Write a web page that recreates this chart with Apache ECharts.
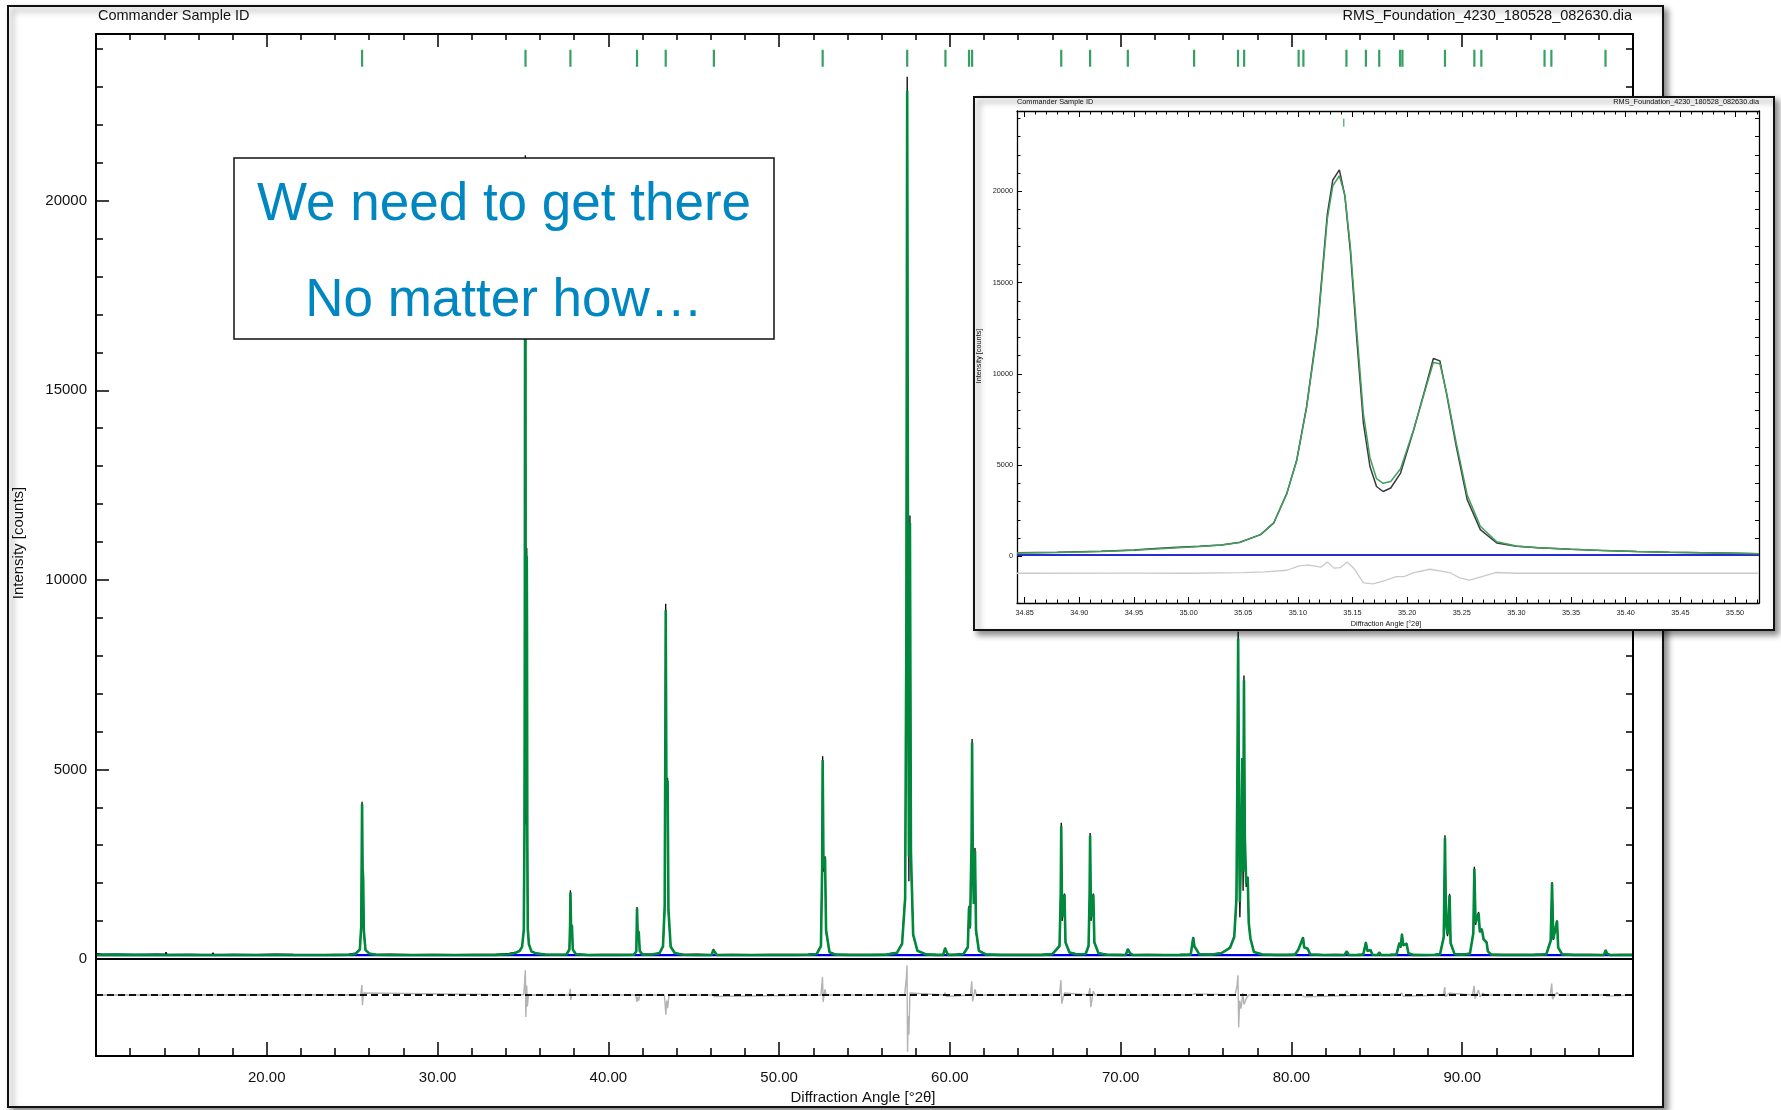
<!DOCTYPE html>
<html>
<head>
<meta charset="utf-8">
<title>Rietveld fit</title>
<script src="https://cdn.jsdelivr.net/npm/echarts@6/dist/echarts.min.js"></script>
<style>
html, body { margin: 0; padding: 0; background: #fff; }
#chart { width: 1781px; height: 1110px; }
</style>
</head>
<body>
<div id="chart"></div>
<script>
// ---- main pattern: [2theta, observed, calculated] ----
var mainProfile = [
    [10.00, 145, 108], [10.40, 120, 108], [11.20, 128, 107], [12.30, 112, 107], [13.60, 125, 106],
    [14.05, 118, 106], [14.10, 175, 106], [14.15, 115, 106], [15.50, 122, 105],
    [16.80, 108, 105], [16.85, 165, 105], [16.90, 110, 105], [18.00, 120, 105], [19.40, 112, 104],
    [20.50, 125, 104], [21.55, 118, 104], [21.60, 160, 104], [21.65, 116, 104], [22.80, 110, 104],
    [24.00, 122, 104], [24.80, 130, 110],
    [25.20, 150, 135], [25.45, 260, 250], [25.53, 900, 850], [25.58, 4150, 4080], [25.61, 2300, 2400],
    [25.645, 2150, 2120], [25.68, 700, 760], [25.78, 230, 240], [26.00, 150, 140], [26.40, 118, 112],
    [27.20, 125, 104], [27.25, 170, 104], [27.30, 118, 104], [28.50, 112, 104], [29.80, 120, 104],
    [31.00, 115, 104], [31.05, 160, 104], [31.10, 112, 104], [32.20, 122, 105], [33.40, 118, 108],
    [34.20, 145, 125], [34.60, 180, 165], [34.80, 220, 210], [34.95, 330, 320], [35.05, 770, 760],
    [35.09, 3460, 3450], [35.108, 8200, 8150], [35.127, 18800, 18500], [35.138, 21200, 20850],
    [35.148, 16800, 17000], [35.160, 7300, 7800], [35.178, 3550, 4000], [35.194, 4560, 4800],
    [35.210, 8000, 8000], [35.224, 10840, 10620], [35.236, 8930, 9000], [35.255, 3100, 3350],
    [35.282, 730, 800], [35.35, 380, 385], [35.50, 200, 195], [35.80, 150, 140], [36.30, 125, 118],
    [36.90, 120, 110],
    [37.55, 130, 118], [37.72, 260, 250], [37.76, 900, 880], [37.78, 1810, 1750], [37.82, 700, 760],
    [37.87, 905, 880], [37.92, 240, 250], [38.10, 135, 125],
    [38.80, 112, 106], [39.60, 120, 105], [39.65, 165, 105], [39.70, 115, 105], [40.60, 118, 105],
    [41.50, 120, 110], [41.64, 210, 200], [41.68, 1370, 1330], [41.72, 600, 650], [41.78, 740, 720],
    [41.84, 200, 210], [42.00, 125, 115],
    [42.60, 125, 120], [43.00, 160, 150], [43.20, 350, 330], [43.30, 1250, 1400], [43.34, 6000, 6100],
    [43.36, 9370, 9200], [43.40, 4300, 4600], [43.47, 4780, 4700], [43.52, 1200, 1300], [43.65, 330, 320],
    [43.90, 160, 150], [44.40, 118, 112],
    [45.20, 125, 106], [45.25, 160, 106], [45.30, 115, 106],
    [46.05, 115, 107], [46.15, 260, 240], [46.22, 200, 190], [46.35, 115, 107],
    [47.20, 120, 105], [48.40, 112, 105], [49.50, 122, 105], [49.55, 165, 105], [49.60, 114, 105],
    [50.80, 118, 106], [51.70, 125, 110],
    [52.20, 145, 130], [52.45, 360, 340], [52.52, 2500, 2400], [52.55, 5350, 5250], [52.60, 2300, 2400],
    [52.69, 2710, 2650], [52.75, 700, 760], [52.95, 180, 175], [53.30, 125, 115],
    [54.20, 118, 106], [55.40, 122, 106], [55.45, 165, 106], [55.50, 115, 106], [56.30, 125, 115],
    [56.90, 170, 160], [57.20, 420, 400], [57.38, 1700, 1600], [57.45, 8000, 8500], [57.50, 23270, 22900],
    [57.55, 9000, 9600], [57.60, 2050, 2700], [57.66, 11700, 11500], [57.72, 2500, 2800],
    [57.85, 620, 640], [58.10, 220, 215], [58.60, 130, 122],
    [59.20, 118, 108], [59.60, 115, 108], [59.72, 300, 280], [59.80, 200, 190], [59.90, 115, 108],
    [60.40, 125, 112], [60.80, 145, 130], [61.05, 320, 310], [61.12, 1400, 1350], [61.18, 800, 850],
    [61.27, 3000, 3100], [61.30, 5800, 5700], [61.34, 2600, 2800], [61.40, 1500, 1450], [61.47, 2930, 2850],
    [61.53, 700, 760], [61.70, 220, 215], [62.10, 130, 120],
    [63.00, 118, 106], [64.20, 122, 106], [64.25, 170, 106], [64.30, 114, 106], [65.40, 120, 108],
    [66.00, 140, 128], [66.42, 360, 340], [66.49, 1800, 1700], [66.52, 3590, 3500], [66.57, 1000, 1100],
    [66.71, 1725, 1700], [66.77, 420, 440], [67.00, 180, 170], [67.40, 135, 125],
    [67.95, 145, 130], [68.12, 360, 340], [68.18, 1700, 1650], [68.21, 3320, 3250], [68.26, 1000, 1100],
    [68.40, 1725, 1700], [68.46, 420, 440], [68.70, 160, 150], [69.20, 120, 112],
    [69.90, 118, 106], [70.30, 115, 107], [70.42, 270, 260], [70.55, 160, 150], [70.70, 115, 107],
    [71.50, 122, 106], [72.60, 115, 106], [72.65, 160, 106], [72.70, 113, 106], [73.50, 120, 108],
    [74.10, 125, 115], [74.25, 580, 560], [74.32, 330, 330], [74.45, 250, 240], [74.60, 130, 120],
    [75.30, 125, 115], [75.90, 160, 150], [76.40, 300, 290], [76.65, 600, 580], [76.78, 1500, 1600],
    [76.84, 5000, 5200], [76.88, 8630, 8450], [76.93, 3500, 3700], [76.98, 1100, 1500], [77.05, 2800, 3000],
    [77.12, 5200, 5300], [77.17, 1800, 2300], [77.22, 7480, 7350], [77.27, 3000, 3200], [77.35, 1900, 2000],
    [77.44, 2170, 2160], [77.50, 900, 950], [77.60, 530, 540], [77.80, 190, 185], [78.30, 125, 118],
    [79.10, 118, 106], [79.80, 120, 108],
    [80.20, 125, 112], [80.40, 250, 240], [80.47, 200, 200], [80.68, 580, 560], [80.74, 300, 310],
    [80.95, 280, 270], [81.10, 130, 118],
    [81.90, 115, 106], [82.60, 122, 106], [82.65, 165, 106], [82.70, 113, 106],
    [83.10, 115, 106], [83.24, 210, 200], [83.35, 115, 106],
    [83.90, 118, 107], [84.20, 120, 110], [84.36, 450, 430], [84.45, 200, 210], [84.62, 250, 240],
    [84.75, 120, 110], [85.05, 115, 106], [85.14, 180, 170], [85.25, 115, 106],
    [85.80, 120, 108], [86.15, 130, 118], [86.32, 430, 420], [86.40, 300, 310], [86.47, 670, 650],
    [86.55, 350, 360], [86.74, 420, 400], [86.85, 160, 150], [87.10, 118, 108],
    [87.80, 115, 106], [88.40, 122, 110],
    [88.70, 135, 122], [88.92, 600, 580], [88.99, 3260, 3200], [89.05, 900, 1000], [89.14, 600, 650],
    [89.26, 1720, 1680], [89.32, 400, 420], [89.55, 140, 128],
    [90.00, 125, 112], [90.45, 150, 135], [90.65, 700, 680], [90.71, 2430, 2380], [90.78, 900, 950],
    [90.96, 1240, 1200], [91.03, 700, 720], [91.15, 800, 780], [91.25, 500, 520], [91.43, 450, 430],
    [91.50, 200, 200], [91.70, 125, 115],
    [92.40, 118, 106], [93.30, 122, 106], [93.35, 160, 106], [93.40, 114, 106], [94.20, 118, 107],
    [94.80, 130, 118], [94.85, 170, 150], [94.92, 125, 118], [95.00, 140, 125], [95.18, 500, 480],
    [95.26, 2030, 2000], [95.33, 500, 520], [95.55, 1020, 1000], [95.62, 300, 300], [95.85, 130, 120],
    [96.60, 118, 106], [97.50, 120, 106],
    [98.30, 115, 106], [98.40, 240, 230], [98.48, 150, 140], [98.55, 190, 180], [98.65, 115, 106],
    [99.30, 122, 106], [100.00, 118, 106]
];

// background (blue)
var mainBackground = [[10, 103], [25, 102], [40, 101], [55, 100], [70, 100], [85, 100], [100, 101]];

// difference curve, already shifted by the offset line
var mainDiffOffset = -950;
var mainDiff = [
    [10.0, -950], [24.9, -945],
    [25.50, -950], [25.57, -690], [25.60, -1220], [25.66, -900], [25.72, -950],
    [34.9, -950], [35.05, -930], [35.10, -600], [35.14, -300], [35.17, -1530], [35.22, -700], [35.26, -1250], [35.32, -950],
    [37.70, -950], [37.77, -790], [37.80, -1080], [37.86, -950],
    [41.60, -950], [41.68, -1130], [41.72, -1000], [41.78, -1100], [41.84, -950],
    [43.28, -950], [43.33, -900], [43.37, -1470], [43.42, -1100], [43.47, -1300], [43.55, -950],
    [46.10, -950], [46.16, -900], [46.22, -990], [46.30, -950],
    [52.45, -950], [52.54, -475], [52.58, -1130], [52.68, -800], [52.75, -950],
    [57.35, -950], [57.45, -500], [57.49, -170], [57.52, -2450], [57.56, -1500], [57.60, -2000], [57.66, -900], [57.75, -950],
    [59.65, -950], [59.72, -890], [59.80, -990], [59.90, -950],
    [61.20, -950], [61.28, -590], [61.33, -1120], [61.47, -800], [61.55, -950],
    [66.42, -950], [66.50, -560], [66.55, -1180], [66.70, -900], [66.80, -950],
    [68.12, -950], [68.20, -765], [68.25, -1270], [68.40, -850], [68.50, -950],
    [74.20, -950], [74.25, -990], [74.32, -920], [74.40, -950],
    [76.70, -950], [76.82, -700], [76.87, -430], [76.91, -1800], [76.97, -1100], [77.05, -1310], [77.15, -900], [77.22, -1200], [77.35, -1050], [77.50, -950],
    [80.60, -950], [80.68, -900], [80.75, -1000], [80.85, -950],
    [84.30, -950], [84.36, -990], [84.45, -950],
    [86.30, -950], [86.45, -900], [86.55, -985], [86.65, -950],
    [88.90, -950], [88.98, -740], [89.02, -1000], [89.25, -900], [89.35, -950],
    [90.60, -950], [90.70, -710], [90.75, -1050], [90.95, -820], [91.05, -1000], [91.20, -900], [91.35, -950],
    [95.15, -950], [95.24, -650], [95.29, -1060], [95.55, -880], [95.65, -950],
    [98.35, -950], [98.40, -920], [98.48, -980], [98.55, -950],
    [100, -950]
];

// corundum reflection positions (green tick row)
var reflections = [25.58, 35.15, 37.78, 41.68, 43.36, 46.18, 52.55, 57.50, 59.74, 61.12, 61.30, 66.52,
    68.21, 70.42, 74.30, 76.87, 77.23, 80.42, 80.70, 83.22, 84.36, 85.14, 86.36, 86.50, 88.99, 90.71,
    91.12, 94.82, 95.22, 98.39];
var reflectionRow = 23760;

// axis ticks
var mainXRange = [10, 100];
var yRange = [-2560, 24400];
var yLabels = [0, 5000, 10000, 15000, 20000];
var yMinorTicks = [1000, 2000, 3000, 4000, 5000, 6000, 7000, 8000, 9000, 10000, 11000, 12000, 13000,
    14000, 15000, 16000, 17000, 18000, 19000, 20000, 21000, 22000, 23000, 24000];

// ---- inset: zoom on the 35.15 doublet ----
var insetProfile = [
    [34.843, 190, 178], [34.88, 215, 210], [34.92, 270, 262], [34.95, 345, 330], [34.97, 420, 400],
    [34.99, 490, 472], [35.01, 545, 540], [35.03, 620, 615], [35.047, 770, 760], [35.066, 1185, 1200],
    [35.078, 1825, 1850], [35.090, 3460, 3450], [35.099, 5280, 5250], [35.108, 8200, 8150],
    [35.118, 12570, 12400], [35.127, 18765, 18500], [35.132, 20620, 20300], [35.138, 21170, 20850],
    [35.143, 19765, 19800], [35.148, 16760, 17000], [35.154, 11840, 12300], [35.160, 7290, 7800],
    [35.166, 4920, 5400], [35.172, 3825, 4250], [35.178, 3550, 4000], [35.185, 3740, 4100],
    [35.194, 4560, 4800], [35.206, 6920, 6950], [35.217, 9290, 9200], [35.224, 10840, 10620],
    [35.230, 10710, 10550], [35.236, 8930, 9000], [35.245, 6010, 6200], [35.255, 3100, 3350],
    [35.267, 1460, 1650], [35.282, 730, 800], [35.300, 550, 560], [35.32, 470, 470], [35.35, 380, 385],
    [35.38, 310, 320], [35.41, 260, 265], [35.44, 220, 225], [35.47, 200, 195], [35.50, 165, 165],
    [35.522, 140, 145]
];
var insetBackground = [[34.843, 75], [35.522, 75]];
var insetDiffOffset = -930;
var insetDiff = [
    [34.843, -930], [34.95, -925], [35.00, -930], [35.05, -900], [35.07, -850], [35.09, -765],
    [35.102, -510], [35.110, -480], [35.121, -600], [35.127, -310], [35.133, -650], [35.139, -620],
    [35.145, -310], [35.151, -640], [35.160, -1455], [35.169, -1510], [35.181, -1300], [35.190, -1110],
    [35.197, -1110], [35.206, -890], [35.221, -710], [35.239, -890], [35.248, -1180], [35.257, -1310],
    [35.266, -1150], [35.281, -890], [35.30, -930], [35.522, -930]
];
var insetReflections = [35.142];
var insetXRange = [34.843, 35.522];
var insetXLabels = [34.85, 34.90, 34.95, 35.00, 35.05, 35.10, 35.15, 35.20, 35.25, 35.30, 35.35, 35.40, 35.45, 35.50];
var insetXMinor = [];
for (var t = 3485; t <= 3552; t++) {
    insetXMinor.push(t / 100);
}

var FONT = 'Liberation Sans';
var GREEN = '#00893c';

function frameAxis(gridIndex, position, range, tickValues, tickLen, opts) {
    var axis = {
        gridIndex: gridIndex,
        type: 'value',
        position: position,
        min: range[0],
        max: range[1],
        z: opts.z,
        axisLine: {show: opts.line, onZero: false, lineStyle: {color: '#000', width: opts.lineWidth}},
        axisTick: {show: true, inside: true, length: tickLen, lineStyle: {color: '#000', width: opts.tickWidth}},
        axisLabel: {show: false},
        splitLine: {show: false}
    };
    if (tickValues) {
        axis.axisTick.customValues = tickValues;
    }
    return axis;
}

var chartDom = document.getElementById('chart');
var myChart = echarts.init(chartDom, null, {renderer: 'canvas'});

var mainOpts = {z: 3, line: true, lineWidth: 2, tickWidth: 1.5};
var mainOptsNoLine = {z: 3, line: false, lineWidth: 2, tickWidth: 1.5};
var insetOpts = {z: 11, line: true, lineWidth: 1.3, tickWidth: 1};
var insetOptsNoLine = {z: 11, line: false, lineWidth: 1.3, tickWidth: 1};

// main x axes: bottom with labels, top mirror
var xBottom = frameAxis(0, 'bottom', mainXRange, null, 14, mainOpts);
xBottom.interval = 10;
xBottom.minorTick = {show: true, splitNumber: 5, length: 8, lineStyle: {color: '#000', width: 1.5}};
xBottom.axisLabel = {
    show: true, showMinLabel: false, showMaxLabel: false, margin: 14,
    fontSize: 15, fontFamily: FONT, color: '#111',
    formatter: function (v) { return v.toFixed(2); }
};
var xTop = frameAxis(0, 'top', mainXRange, null, 13, mainOpts);
xTop.interval = 10;
xTop.minorTick = {show: true, splitNumber: 5, length: 6, lineStyle: {color: '#000', width: 1.5}};

var yLeft = frameAxis(0, 'left', yRange, yLabels, 13, mainOpts);
yLeft.axisLabel = {
    show: true, customValues: yLabels, margin: 9, fontSize: 15, fontFamily: FONT, color: '#111',
    formatter: function (v) { return String(v); }
};
var yLeftMinor = frameAxis(0, 'left', yRange, yMinorTicks, 7, mainOptsNoLine);
var yRight = frameAxis(0, 'right', yRange, yMinorTicks, 7, mainOpts);

// inset axes
var ixBottom = frameAxis(1, 'bottom', insetXRange, insetXLabels, 6, insetOpts);
ixBottom.axisLabel = {
    show: true, customValues: insetXLabels, margin: 6, fontSize: 7.3, fontFamily: FONT, color: '#222',
    formatter: function (v) { return v.toFixed(2); }
};
var ixBottomMinor = frameAxis(1, 'bottom', insetXRange, insetXMinor, 3.5, insetOptsNoLine);
var ixTop = frameAxis(1, 'top', insetXRange, insetXLabels, 6, insetOpts);
var ixTopMinor = frameAxis(1, 'top', insetXRange, insetXMinor, 3.5, insetOptsNoLine);
var iyLeft = frameAxis(1, 'left', yRange, yLabels, 5, insetOpts);
iyLeft.axisLabel = {
    show: true, customValues: yLabels, margin: 4, fontSize: 7.3, fontFamily: FONT, color: '#222',
    formatter: function (v) { return String(v); }
};
var iyLeftMinor = frameAxis(1, 'left', yRange, yMinorTicks, 3.5, insetOptsNoLine);
var iyRight = frameAxis(1, 'right', yRange, yMinorTicks, 4, insetOpts);

function noMarkLabel(value, color, width, type) {
    return {
        silent: true,
        symbol: ['none', 'none'],
        label: {show: false},
        lineStyle: {color: color, width: width, type: type},
        data: [{yAxis: value}]
    };
}

function txt(x, y, text, size, align, extra) {
    var el = {
        type: 'text', x: x, y: y, z: (extra && extra.z) || 5,
        style: {
            text: text, fontSize: size, fontFamily: FONT, fill: (extra && extra.fill) || '#111',
            align: align, verticalAlign: 'middle'
        }
    };
    if (extra && extra.rotation) {
        el.rotation = extra.rotation;
    }
    return el;
}

var option = {
    animation: false,
    backgroundColor: '#fff',
    grid: [
        {left: 96, top: 34, width: 1537, height: 1022},
        {left: 1017, top: 111, width: 742, height: 492}
    ],
    dataset: [
        {source: mainProfile, sourceHeader: false},
        {source: insetProfile, sourceHeader: false}
    ],
    xAxis: [xBottom, xTop, ixBottom, ixBottomMinor, ixTop, ixTopMinor],
    yAxis: [yLeft, yLeftMinor, yRight, iyLeft, iyLeftMinor, iyRight],
    series: [
        // main chart
        {
            name: 'Difference', type: 'line', xAxisIndex: 0, yAxisIndex: 0, z: 2,
            data: mainDiff, symbol: 'none', lineStyle: {color: '#b3b3b3', width: 1.4},
            markLine: noMarkLabel(mainDiffOffset, '#111', 2, [7, 4])
        },
        {
            name: 'Background', type: 'line', xAxisIndex: 0, yAxisIndex: 0, z: 2,
            data: mainBackground, symbol: 'none', lineStyle: {color: '#0000ee', width: 2.4},
            markLine: noMarkLabel(0, '#000', 2, 'solid')
        },
        {
            name: 'Observed', type: 'line', xAxisIndex: 0, yAxisIndex: 0, z: 2,
            datasetIndex: 0, encode: {x: 0, y: 1}, symbol: 'none',
            lineStyle: {color: '#000', width: 1.3}
        },
        {
            name: 'Calculated', type: 'line', xAxisIndex: 0, yAxisIndex: 0, z: 2,
            datasetIndex: 0, encode: {x: 0, y: 2}, symbol: 'none',
            lineStyle: {color: GREEN, width: 2.6}
        },
        {
            name: 'Reflections', type: 'scatter', xAxisIndex: 0, yAxisIndex: 0, z: 2,
            data: reflections.map(function (x) { return [x, reflectionRow]; }),
            symbol: 'rect', symbolSize: [2.2, 17], itemStyle: {color: GREEN}
        },
        // inset chart
        {
            name: 'Inset difference', type: 'line', xAxisIndex: 2, yAxisIndex: 3, z: 12,
            data: insetDiff, symbol: 'none', lineStyle: {color: '#cacaca', width: 1.3},
            markLine: noMarkLabel(insetDiffOffset, '#444', 1.2, [5, 3])
        },
        {
            name: 'Inset background', type: 'line', xAxisIndex: 2, yAxisIndex: 3, z: 12,
            data: insetBackground, symbol: 'none', lineStyle: {color: '#2b2bd6', width: 2},
            markLine: noMarkLabel(0, '#444', 1.3, 'solid')
        },
        {
            name: 'Inset observed', type: 'line', xAxisIndex: 2, yAxisIndex: 3, z: 12,
            datasetIndex: 1, encode: {x: 0, y: 1}, symbol: 'none',
            lineStyle: {color: '#3a3a3a', width: 1.5}
        },
        {
            name: 'Inset calculated', type: 'line', xAxisIndex: 2, yAxisIndex: 3, z: 12,
            datasetIndex: 1, encode: {x: 0, y: 2}, symbol: 'none',
            lineStyle: {color: '#41a05f', width: 1.5}
        },
        {
            name: 'Inset reflections', type: 'scatter', xAxisIndex: 2, yAxisIndex: 3, z: 12,
            data: insetReflections.map(function (x) { return [x, reflectionRow]; }),
            symbol: 'rect', symbolSize: [1.5, 8], itemStyle: {color: '#3fa35f'}
        }
    ],
    graphic: {
        elements: [
            // main frame
            {
                type: 'rect', z: -1, shape: {x: 8, y: 6, width: 1655, height: 1101},
                style: {fill: '#fff', stroke: '#111', lineWidth: 2, shadowBlur: 6, shadowOffsetX: 4,
                    shadowOffsetY: 4, shadowColor: 'rgba(0,0,0,0.45)'}
            },
            txt(98, 16, 'Commander Sample ID', 14.5, 'left'),
            txt(1632, 16, 'RMS_Foundation_4230_180528_082630.dia', 14.5, 'right'),
            txt(19, 543, 'Intensity [counts]', 15, 'center', {rotation: Math.PI / 2}),
            txt(863, 1098, 'Diffraction Angle [°2θ]', 15, 'center'),
            // call-out box
            {
                type: 'rect', z: 10, shape: {x: 234, y: 158, width: 540, height: 181},
                style: {fill: '#fff', stroke: '#111', lineWidth: 1.5}
            },
            txt(504, 205, 'We need to get there', 53, 'center', {z: 11, fill: '#0086c1'}),
            txt(504, 301, 'No matter how…', 53, 'center', {z: 11, fill: '#0086c1'}),
            // inset frame
            {
                type: 'rect', z: 10, shape: {x: 974, y: 97, width: 800, height: 533},
                style: {fill: '#fff', stroke: '#111', lineWidth: 2, shadowBlur: 6, shadowOffsetX: 4,
                    shadowOffsetY: 4, shadowColor: 'rgba(0,0,0,0.45)'}
            },
            txt(1017, 102, 'Commander Sample ID', 7.3, 'left', {z: 13}),
            txt(1759, 102, 'RMS_Foundation_4230_180528_082630.dia', 7.3, 'right', {z: 13}),
            txt(979, 356, 'Intensity [counts]', 7.3, 'center', {z: 13, rotation: Math.PI / 2}),
            txt(1386, 624, 'Diffraction Angle [°2θ]', 7.3, 'center', {z: 13})
        ]
    }
};
myChart.setOption(option);
</script>
</body>
</html>
